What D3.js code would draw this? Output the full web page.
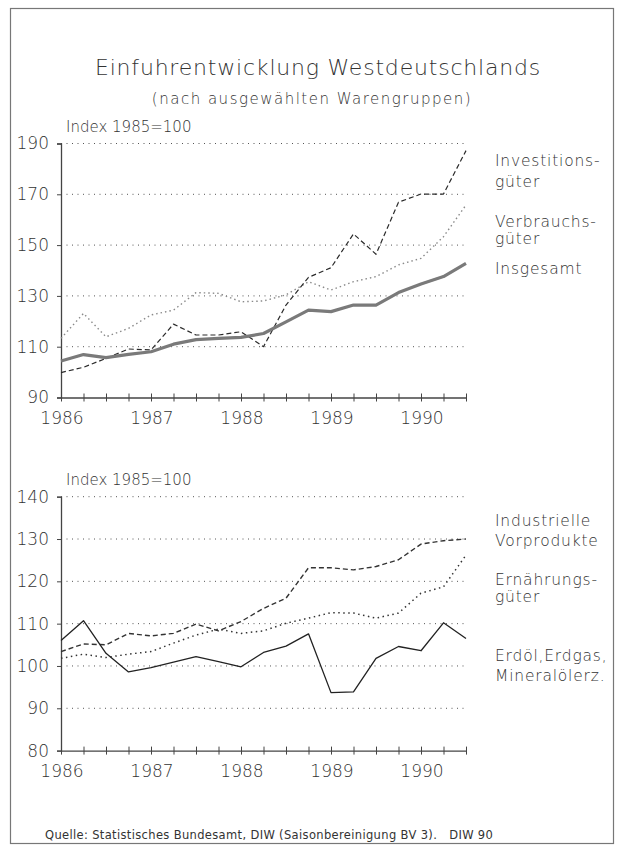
<!DOCTYPE html>
<html>
<head>
<meta charset="utf-8">
<script src="https://cdn.jsdelivr.net/npm/d3@7"></script>
<style>
  body { margin: 0; background: #fff; }
  svg { display: block; font-family: "DejaVu Sans", sans-serif; }
  text { fill: #333; }
</style>
</head>
<body>
<svg id="chart" width="624" height="848"></svg>
<script>
// quarterly observations 1986 Q1 .. 1990 Q3
var quarters = [];
for (var yr = 1986; yr <= 1990; yr++) {
  for (var q = 1; q <= 4; q++) {
    if (yr === 1990 && q === 4) break;
    quarters.push(yr + " Q" + q);
  }
}
var yearLabels = ["1986", "1987", "1988", "1989", "1990"];

// upper panel
var insgesamt   = [104.4, 106.9, 105.7, 107.0, 108.0, 111.0, 112.8, 113.3, 113.7, 115.2,
                   119.8, 124.4, 123.8, 126.4, 126.4, 131.3, 134.7, 137.6, 142.8];
var investition = [99.8, 101.9, 105.4, 109.1, 108.7, 118.9, 114.6, 114.6, 115.9, 110.0,
                   126.4, 137.3, 141.1, 154.4, 146.4, 166.9, 170.1, 170.1, 187.2];
var verbrauch   = [113.3, 123.1, 113.9, 117.2, 122.5, 124.4, 131.3, 131.0, 127.7, 128.0,
                   130.4, 135.6, 132.3, 135.6, 137.6, 142.2, 144.8, 153.3, 165.8];
var topTicks = [90, 110, 130, 150, 170, 190];

// lower panel
var vorprodukte = [103.4, 105.2, 105.0, 107.7, 107.1, 107.7, 109.9, 108.3, 110.5, 113.6,
                   116.0, 123.2, 123.2, 122.7, 123.5, 125.1, 128.8, 129.6, 130.0];
var ernaehrung  = [101.8, 102.8, 102.0, 102.8, 103.4, 105.4, 107.3, 108.7, 107.7, 108.3,
                   110.1, 111.3, 112.6, 112.5, 111.3, 112.5, 117.2, 118.7, 126.2];
var erdoel      = [106.0, 110.7, 103.0, 98.6, 99.6, 100.9, 102.2, 101.0, 99.8, 103.2,
                   104.7, 107.6, 93.7, 93.9, 101.8, 104.6, 103.6, 110.2, 106.5];
var bottomTicks = [80, 90, 100, 110, 120, 130, 140];

var svg = d3.select("#chart");

// frame
svg.append("rect")
  .attr("x", 10.5).attr("y", 8.5)
  .attr("width", 603).attr("height", 835)
  .attr("fill", "none")
  .attr("stroke", "#777")
  .attr("stroke-width", 1.2);

svg.append("text")
  .attr("x", 318).attr("y", 75)
  .attr("text-anchor", "middle")
  .attr("font-size", 22)
  .attr("font-weight", 200)
  .attr("letter-spacing", 0.8)
  .text("Einfuhrentwicklung Westdeutschlands");

svg.append("text")
  .attr("x", 312).attr("y", 104)
  .attr("text-anchor", "middle")
  .attr("font-size", 15)
  .attr("font-weight", 200)
  .attr("letter-spacing", 1.5)
  .text("(nach ausgewählten Warengruppen)");

var x = d3.scalePoint()
  .domain(quarters)
  .range([61, 466]);

function drawPanel(cfg) {
  var y = d3.scaleLinear()
    .domain(cfg.domain)
    .range(cfg.range);

  var g = svg.append("g");

  g.append("text")
    .attr("x", 66).attr("y", cfg.range[1] - 12)
    .attr("font-size", 15)
    .attr("font-weight", 200)
    .text("Index 1985=100");

  // dotted grid lines
  g.selectAll(".grid")
    .data(cfg.ticks.slice(1))
    .enter().append("line")
    .attr("x1", 61).attr("x2", 466)
    .attr("y1", function(d) { return y(d); })
    .attr("y2", function(d) { return y(d); })
    .attr("stroke", "#555")
    .attr("stroke-width", 1)
    .attr("stroke-dasharray", "1,4.5");

  var yAxis = d3.axisLeft(y)
    .tickValues(cfg.ticks)
    .tickSize(4)
    .tickPadding(8)
    .tickFormat(d3.format("d"));

  var ya = g.append("g")
    .attr("transform", "translate(61,0)")
    .call(yAxis);
  ya.selectAll("text").attr("font-size", 17).attr("fill", "#333")
    .attr("font-weight", 200).style("font-family", "DejaVu Sans");
  ya.selectAll("line").attr("stroke", "#444");
  ya.select(".domain").attr("stroke", "#444").attr("stroke-width", 1.3);

  var xAxis = d3.axisBottom(x)
    .tickSize(4)
    .tickSizeOuter(0)
    .tickFormat("");

  var xa = g.append("g")
    .attr("transform", "translate(0," + y(cfg.domain[0]) + ")")
    .call(xAxis);
  xa.selectAll(".tick line").attr("y1", -4).attr("stroke", "#444");
  xa.select(".domain").attr("stroke", "#444").attr("stroke-width", 1.3);

  g.selectAll(".year")
    .data(yearLabels)
    .enter().append("text")
    .attr("x", function(d) { return x(d + " Q1") + 1; })
    .attr("y", y(cfg.domain[0]) + 26)
    .attr("text-anchor", "middle")
    .attr("font-size", 17)
    .attr("font-weight", 200)
    .text(function(d) { return d; });

  var line = d3.line()
    .x(function(d, i) { return x(quarters[i]); })
    .y(function(d) { return y(d); });

  cfg.series.forEach(function(s) {
    g.append("path")
      .datum(s.values)
      .attr("d", line)
      .attr("fill", "none")
      .attr("stroke", s.color)
      .attr("stroke-width", s.width)
      .attr("stroke-dasharray", s.dash)
      .attr("stroke-linejoin", "round");
  });

  cfg.labels.forEach(function(l) {
    g.append("text")
      .attr("x", 495).attr("y", l.y)
      .attr("font-size", 15.5)
      .attr("font-weight", 200)
      .attr("letter-spacing", 0.8)
      .text(l.text);
  });
}

drawPanel({
  domain: [90, 190],
  range: [397.5, 143.5],
  ticks: topTicks,
  series: [
    { values: verbrauch, color: "#8a8a8a", width: 1.4, dash: "1.5,3" },
    { values: investition, color: "#2a2a2a", width: 1.2, dash: "5,3" },
    { values: insgesamt, color: "#7a7a7a", width: 3.2, dash: null }
  ],
  labels: [
    { text: "Investitions-", y: 166 },
    { text: "güter", y: 187 },
    { text: "Verbrauchs-", y: 227 },
    { text: "güter", y: 244 },
    { text: "Insgesamt", y: 274 }
  ]
});

drawPanel({
  domain: [80, 140],
  range: [750.6, 496.7],
  ticks: bottomTicks,
  series: [
    { values: ernaehrung, color: "#333", width: 1.5, dash: "1.5,3.5" },
    { values: vorprodukte, color: "#333", width: 1.4, dash: "5,3" },
    { values: erdoel, color: "#222", width: 1.3, dash: null }
  ],
  labels: [
    { text: "Industrielle", y: 526 },
    { text: "Vorprodukte", y: 546 },
    { text: "Ernährungs-", y: 585 },
    { text: "güter", y: 602 },
    { text: "Erdöl,Erdgas,", y: 661 },
    { text: "Mineralölerz.", y: 681 }
  ]
});

svg.append("text")
  .attr("x", 45).attr("y", 839)
  .attr("font-size", 11.5)
  .attr("letter-spacing", 0.35)
  .attr("xml:space", "preserve")
  .text("Quelle: Statistisches Bundesamt, DIW (Saisonbereinigung BV 3).   DIW 90");
</script>
</body>
</html>
